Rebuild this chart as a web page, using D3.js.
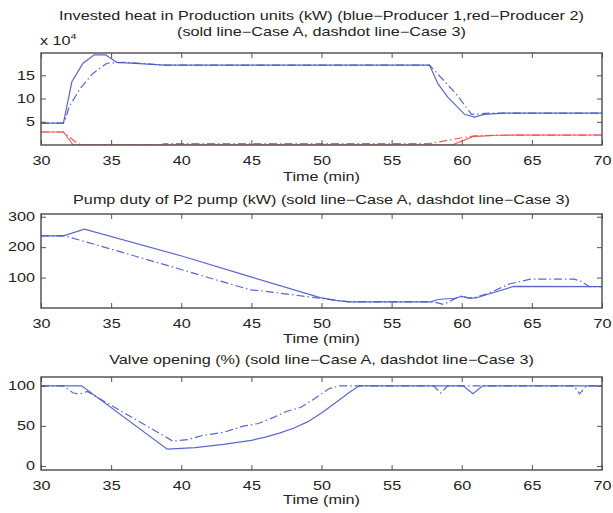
<!DOCTYPE html>
<html>
<head>
<meta charset="utf-8">
<script src="https://cdn.jsdelivr.net/npm/d3@7"></script>
<style>
  body { margin: 0; background: #fff; }
  text { font-family: "Liberation Sans", Arial, sans-serif; fill: #222; }
</style>
</head>
<body>
<div id="chart"></div>
<script>
// ---- data ----
const xTicks = [30, 35, 40, 45, 50, 55, 60, 65, 70];

// panel 1: invested heat (kW)
const p1BlueA = [[30, 47000], [31.6, 47000], [32.2, 136000], [33, 176000], [33.8, 194000], [34.6, 194000],
  [35.4, 178000], [37, 175000], [38.8, 172000], [57.7, 172000], [58.3, 132000], [59, 103000],
  [60.2, 66000], [60.9, 60000], [61.6, 66000], [63, 68500], [70, 68500]];
const p1BlueC = [[30, 47000], [31.6, 47000], [31.8, 60000], [32, 82000], [32.8, 122000], [33.7, 154000],
  [34.7, 176000], [36, 178000], [38.8, 172000], [57.7, 172000], [59.6, 110000], [60.7, 66000],
  [62, 68500], [70, 68500]];
const p1RedA = [[30, 28000], [31.6, 28000], [32.3, 0], [59.3, 0], [60.8, 18000], [62.5, 21000], [70, 21500]];
const p1RedC = [[30, 28000], [31.6, 28000], [32.6, 3000], [33, 0], [38.5, 0], [38.8, 3000], [57.7, 3000],
  [59.9, 15000], [61, 20000], [63, 21000], [70, 21500]];
const p1Ticks = [50000, 100000, 150000];

// panel 2: pump duty of P2 (kW)
const p2A = [[30, 237], [31.6, 237], [33.1, 259], [40.1, 170], [44.9, 103], [49.9, 34], [51, 25], [52, 20],
  [57.8, 20], [58.3, 28], [59.5, 32], [60, 38], [60.5, 32], [61, 33], [63.7, 71], [70, 70]];
const p2C = [[30, 237], [31.7, 237], [34, 207], [40.1, 125], [44.9, 60], [46, 55], [49.7, 33], [52, 20],
  [58, 20], [58.7, 12], [59.5, 30], [60, 40], [60.5, 33], [61, 35], [62, 50], [63.4, 79], [64.9, 95],
  [68, 95], [68.5, 88], [69.1, 70], [70, 70]];
const p2Ticks = [100, 200, 300];

// panel 3: valve opening (%)
const p3A = [[30, 100], [32.9, 100], [39, 21], [41, 23], [43, 27], [45, 32], [46, 36], [47, 41], [48, 47],
  [49, 55], [50, 66], [51, 79], [52, 92], [52.7, 100], [60.1, 100], [60.8, 90], [61.5, 100], [70, 100]];
const p3C = [[30, 100], [31.6, 100], [32.3, 91], [32.8, 90], [33.3, 93], [39.4, 31], [40.5, 33], [41.5, 38],
  [43, 42], [44.5, 50], [45.5, 53], [46.5, 60], [47.5, 68], [48.5, 73], [49.5, 84], [50.5, 96],
  [51.2, 100], [58, 100], [58.5, 91], [59, 100], [68, 100], [68.4, 90], [68.9, 100], [70, 100]];
const p3Ticks = [0, 50, 100];

const blue = "#4a55c8", red = "#e85050";
const dashdot = "8,3,1.5,3";

const W = 613, H = 513;
const left = 41, right = 602;
// the reference picture is stretched sideways, so text is too
const sx = 1.35, fs = "12px";

const panels = [
  { top: 53, bottom: 145, domain: [0, 198000], ticks: p1Ticks, fmt: d => d / 10000,
    title: ["Invested heat in Production units (kW) (blue\u2212Producer 1,red\u2212Producer 2)",
            "(sold line\u2212Case A, dashdot line\u2212Case 3)"],
    titleY: [20, 36], xlabY: 181,
    series: [{ d: p1BlueA, c: blue, dash: null }, { d: p1BlueC, c: blue, dash: dashdot },
             { d: p1RedA, c: red, dash: null }, { d: p1RedC, c: red, dash: dashdot }] },
  { top: 214, bottom: 308, domain: [0, 309], ticks: p2Ticks, fmt: d => d,
    title: ["Pump duty of P2 pump (kW) (sold line\u2212Case A, dashdot line\u2212Case 3)"],
    titleY: [204], xlabY: 343,
    series: [{ d: p2A, c: blue, dash: null }, { d: p2C, c: blue, dash: dashdot }] },
  { top: 377, bottom: 470, domain: [-5, 111], ticks: p3Ticks, fmt: d => d,
    title: ["Valve opening (%) (sold line\u2212Case A, dashdot line\u2212Case 3)"],
    titleY: [364], xlabY: 504,
    series: [{ d: p3A, c: blue, dash: null }, { d: p3C, c: blue, dash: dashdot }] }
];

const svg = d3.select("#chart").append("svg")
  .attr("width", W).attr("height", H);

const x = d3.scaleLinear().domain([30, 70]).range([left, right]);
const tickLen = 5;

function label(g, tx, ty, str, anchor) {
  return g.append("text")
    .attr("transform", "translate(" + tx + "," + ty + ") scale(" + sx + ",1)")
    .attr("text-anchor", anchor || "middle")
    .style("font-size", fs)
    .text(str);
}

panels.forEach(function(p, i) {
  const y = d3.scaleLinear().domain(p.domain).range([p.bottom, p.top]);
  const g = svg.append("g");

  g.append("clipPath").attr("id", "clip" + i)
    .append("rect").attr("x", left).attr("y", p.top)
    .attr("width", right - left).attr("height", p.bottom - p.top);

  const line = d3.line().x(d => x(d[0])).y(d => y(d[1]));

  g.append("g").attr("clip-path", "url(#clip" + i + ")")
    .selectAll("path").data(p.series).enter().append("path")
    .attr("d", s => line(s.d))
    .attr("fill", "none")
    .attr("stroke", s => s.c)
    .attr("stroke-width", 1.2)
    .attr("stroke-opacity", 0.9)
    .attr("stroke-dasharray", s => s.dash);

  // inward ticks, all four sides (like matlab)
  const xa = d3.axisBottom(x).tickValues(xTicks).tickSize(-tickLen).tickPadding(11);
  const xt = d3.axisTop(x).tickValues(xTicks).tickSize(-tickLen).tickFormat("");
  const yl = d3.axisLeft(y).tickValues(p.ticks).tickSize(-tickLen).tickPadding(6 / sx).tickFormat(p.fmt);
  const yr = d3.axisRight(y).tickValues(p.ticks).tickSize(-tickLen).tickFormat("");

  [[xa, "translate(0," + p.bottom + ")"], [xt, "translate(0," + p.top + ")"],
   [yl, "translate(" + left + ",0)"], [yr, "translate(" + right + ",0)"]].forEach(function(a) {
    const ag = g.append("g").attr("transform", a[1]).call(a[0]);
    ag.select(".domain").remove();
    ag.selectAll("line").attr("stroke", "#555").attr("stroke-width", 1);
    ag.selectAll("text").style("font-size", fs).style("fill", "#222")
      .attr("transform", "scale(" + sx + ",1)");
  });

  g.append("rect")
    .attr("x", left).attr("y", p.top)
    .attr("width", right - left).attr("height", p.bottom - p.top)
    .attr("fill", "none").attr("stroke", "#4a4a4a").attr("stroke-width", 1.4);

  p.title.forEach(function(t, k) {
    label(g, (left + right) / 2, p.titleY[k], t);
  });

  label(g, (left + right) / 2, p.xlabY, "Time (min)");

  if (i === 0) {
    const ex = label(g, left - 1, 45, "", "start");
    ex.append("tspan").text("x 10");
    ex.append("tspan").attr("dy", -6).style("font-size", "8px").text("4");
  }
});
</script>
</body>
</html>
